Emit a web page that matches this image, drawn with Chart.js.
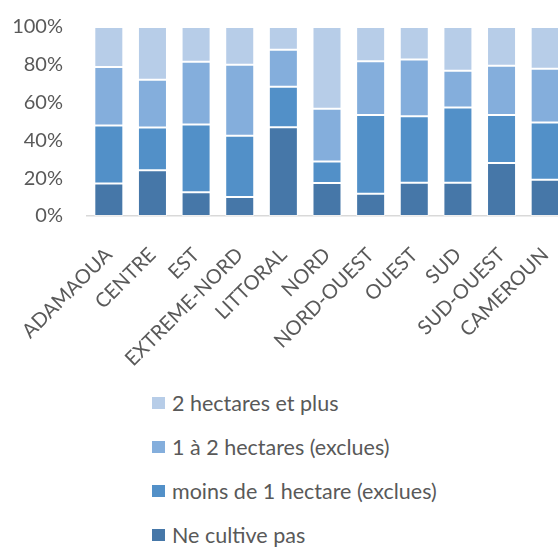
<!DOCTYPE html>
<html lang="fr">
<head>
  <meta charset="UTF-8">
  <title>Superficie cultivée par région</title>
  <script src="https://cdn.jsdelivr.net/npm/chart.js"></script>
  <style>
    html, body { margin: 0; padding: 0; background: #fff; overflow: hidden; }
    #wrap { position: relative; width: 572px; height: 548px; }
    #chartBox { position: absolute; left: 0; top: 0; width: 572px; height: 380px; }
    #legend { position: absolute; left: 152px; top: 389px; font-family: Lato, sans-serif; font-size: 21.5px; color: #595959; }
    .leg-item { display: flex; align-items: center; height: 28px; margin-bottom: 16px; }
    .leg-box { width: 13px; height: 12px; margin-right: 7px; }
  </style>
</head>
<body>
  <div id="wrap">
    <div id="chartBox"><canvas id="c"></canvas></div>
    <div id="legend"></div>
  </div>
  <script>
    const regions = ['ADAMAOUA', 'CENTRE', 'EST', 'EXTREME-NORD', 'LITTORAL', 'NORD',
      'NORD-OUEST', 'OUEST', 'SUD', 'SUD-OUEST', 'CAMEROUN'];
    // shares in % (each bar sums to 100)
    const neCultivePas = [17.2, 24.2, 12.6, 10.0, 47.0, 17.4, 11.8, 17.6, 17.6, 28.1, 19.2];
    const moinsDe1 = [30.7, 22.6, 35.8, 32.5, 21.4, 11.5, 41.6, 35.2, 39.8, 25.3, 30.3];
    const de1a2 = [31.0, 25.3, 33.2, 37.5, 19.5, 27.8, 28.5, 30.0, 19.4, 26.1, 28.4];
    const deuxEtPlus = [21.1, 27.9, 18.4, 20.0, 12.1, 43.3, 18.1, 17.2, 23.2, 20.5, 22.1];
    const yTicks = [0, 20, 40, 60, 80, 100];

    const grey = '#595959';
    const ds = (label, data, color) => ({
      label, data,
      backgroundColor: color,
      borderColor: 'rgba(255,255,255,0.55)',
      borderWidth: 1,
      borderSkipped: false,
      barPercentage: 0.665,
      categoryPercentage: 1
    });

    // keep tick labels from pushing the plot area around
    const noPad = s => {
      s.paddingLeft = s.paddingRight = s.paddingTop = s.paddingBottom = 0;
      s.getPadding = () => ({ left: 0, top: 0, right: 0, bottom: 0 });
    };

    const chart = new Chart(document.getElementById('c'), {
      type: 'bar',
      data: {
        labels: regions,
        datasets: [
          ds('Ne cultive pas', neCultivePas, '#4677A8'),
          ds('moins de 1 hectare (exclues)', moinsDe1, '#5290C8'),
          ds('1 à 2 hectares (exclues)', de1a2, '#84AEDC'),
          ds('2 hectares et plus', deuxEtPlus, '#B7CDE8')
        ]
      },
      options: {
        responsive: true,
        maintainAspectRatio: false,
        animation: false,
        layout: { padding: { left: 13, top: 27, right: 5, bottom: 0 } },
        plugins: { legend: { display: false }, tooltip: { enabled: false } },
        scales: {
          x: {
            stacked: true,
            grid: { display: false, drawTicks: false },
            border: { display: true, color: '#d9d9d9', width: 1.5 },
            ticks: {
              color: grey, minRotation: 45, maxRotation: 45, autoSkip: false,
              padding: 27,
              font: { family: 'Lato', size: 20 }
            },
            afterFit: s => { noPad(s); s.height = 164; }
          },
          y: {
            stacked: true,
            min: 0, max: 100,
            afterBuildTicks: axis => { axis.ticks = yTicks.map(v => ({ value: v })); },
            grid: { display: false, drawTicks: false },
            border: { display: false },
            ticks: {
              color: grey, padding: 24,
              font: { family: 'Lato', size: 20 },
              callback: v => v + '%'
            },
            afterFit: s => { noPad(s); s.width = 74; }
          }
        }
      }
    });

    // vertical legend, top series first
    const legend = document.getElementById('legend');
    chart.data.datasets.slice().reverse().forEach(d => {
      const item = document.createElement('div');
      item.className = 'leg-item';
      item.innerHTML = '<span class="leg-box" style="background:' + d.backgroundColor + '"></span>' + d.label;
      legend.appendChild(item);
    });
  </script>
</body>
</html>
